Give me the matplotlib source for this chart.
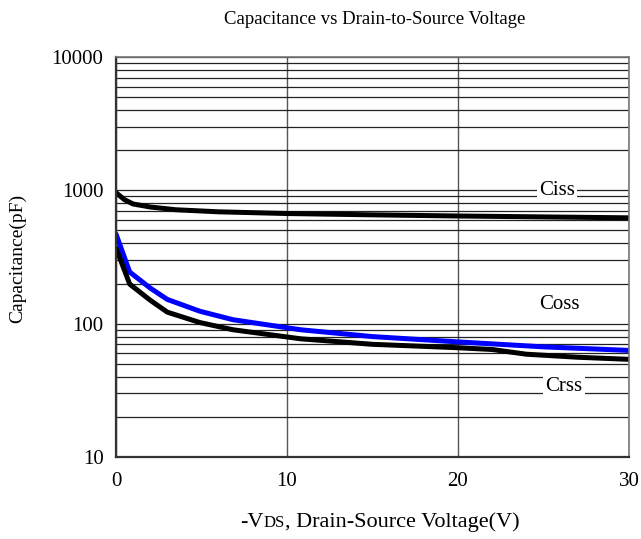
import matplotlib
matplotlib.use("Agg")
import matplotlib.pyplot as plt
import numpy as np

plt.rcParams['font.family'] = ['Liberation Serif', 'DejaVu Serif']

# --------------------------------------------------
# DATA
# --------------------------------------------------

ciss_v = [0, 0.5, 1, 2, 3.5, 6, 10, 15, 20, 25, 30]
ciss_c = [960, 850, 790, 750, 715, 690, 670, 655, 642, 632, 622]

coss_v = [0, 0.8, 2, 3, 4.9, 6.85, 10.8, 15, 20, 25, 30]
coss_c = [470, 244, 185, 152, 124, 107, 90, 80, 73, 67, 63]

crss_v = [0, 0.8, 2, 3, 4.9, 6.85, 10.8, 15, 20, 22, 24, 27, 30]
crss_c = [370, 198, 150, 122, 102, 90, 77, 70, 66, 64, 59, 56, 54]

x_ticks = [0, 10, 20, 30]
y_ticks = [10, 100, 1000, 10000]

# --------------------------------------------------
# FIGURE
# --------------------------------------------------

fig = plt.figure(figsize=(6.41, 5.39), dpi=100)
ax = fig.add_axes([116 / 641, 1 - 457 / 539, 513 / 641, 400 / 539])

ax.set_yscale("log")
ax.set_xlim(0, 30)
ax.set_ylim(10, 10000)

# grid: log minors horizontally, 10 V steps vertically
ax.set_xticks(x_ticks)
ax.set_xticklabels([str(t) for t in x_ticks])
ax.set_yticks(y_ticks)
ax.set_yticklabels([str(t) for t in y_ticks])
ax.yaxis.set_minor_locator(matplotlib.ticker.LogLocator(base=10, subs=np.arange(2, 10)))
ax.yaxis.set_minor_formatter(matplotlib.ticker.NullFormatter())
ax.grid(True, which="both", axis="y", color="#222222", lw=0.9)
ax.grid(True, which="major", axis="x", color="#555555", lw=1.0)
ax.tick_params(which="both", length=0, labelsize=15)
ax.tick_params(axis="y", pad=9)
ax.tick_params(axis="x", pad=11)

for side in ["left", "bottom"]:
    ax.spines[side].set_color("#333333")
    ax.spines[side].set_linewidth(1.6)
for side in ["top", "right"]:
    ax.spines[side].set_color("#777777")
    ax.spines[side].set_linewidth(1.2)

ax.plot(ciss_v, ciss_c, color="black", lw=3.6, solid_capstyle="round")
ax.plot(coss_v, coss_c, color="#0000ff", lw=3.6, solid_capstyle="round")
ax.plot(crss_v, crss_c, color="black", lw=3.6, solid_capstyle="round")

box = dict(facecolor="white", edgecolor="none", pad=1.5)
ax.text(25.8, 1000, "Ciss", fontsize=15, ha="center", va="center", bbox=box)
ax.text(25.9, 140, "Coss", fontsize=15, ha="center", va="center", bbox=box)
ax.text(26.2, 34, "Crss", fontsize=15, ha="center", va="center", bbox=box)

fig.text(18 / 641, 1 - 258 / 539, "Capacitance(pF)", fontsize=14,
         rotation=90, ha="center", va="center")
fig.text(375 / 641, 1 - 20 / 539, "Capacitance vs Drain-to-Source Voltage",
         fontsize=13.5, ha="center", va="center")

# x label with small "DS"
fig.canvas.draw()
renderer = fig.canvas.get_renderer()
parts = [("-V", 16), ("DS", 12), (", Drain-Source Voltage(V)", 16)]
widths = []
for s, fs in parts:
    t = fig.text(0, 0, s, fontsize=fs)
    widths.append(t.get_window_extent(renderer).width)
    t.remove()
x0 = 380 - sum(widths) / 2
y0 = 539 - 527
for (s, fs), w in zip(parts, widths):
    fig.text(x0 / 641, y0 / 539, s, fontsize=fs, ha="left", va="baseline")
    x0 += w

fig.savefig("out.png", dpi=100)
